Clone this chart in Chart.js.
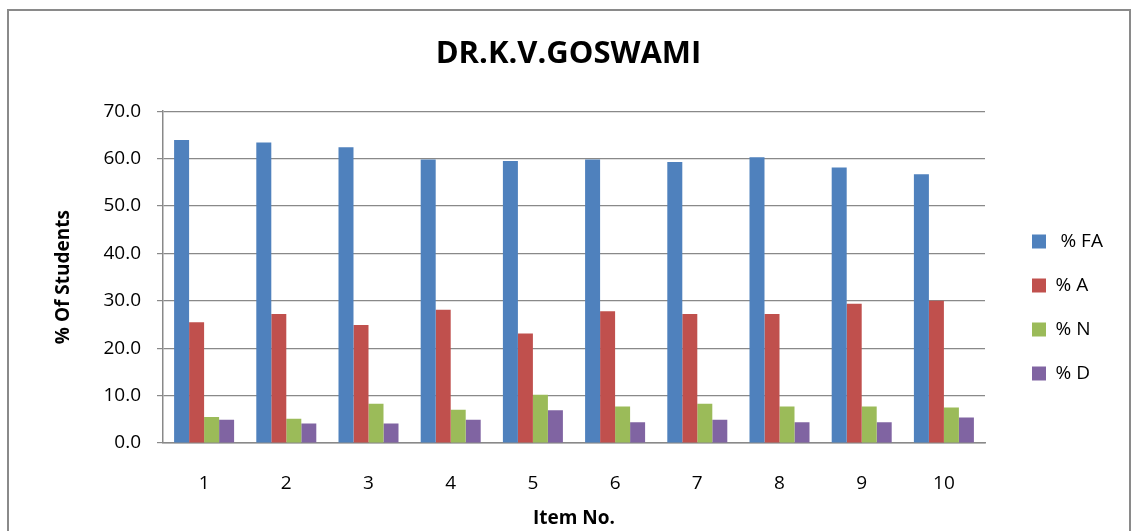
<!DOCTYPE html>
<html>
<head>
<meta charset="utf-8">
<script src="https://cdn.jsdelivr.net/npm/chart.js@4/dist/chart.umd.min.js"></script>
<style>
  html, body { margin: 0; padding: 0; background: #fff; }
  #wrap { width: 1131px; height: 531px; position: relative; }
</style>
</head>
<body>
<div id="wrap"><canvas id="chart" width="1131" height="531"></canvas></div>
<script>
// values
const items = ['1', '2', '3', '4', '5', '6', '7', '8', '9', '10'];
const pctFA = [63.9, 63.4, 62.4, 59.8, 59.5, 59.8, 59.3, 60.3, 58.1, 56.7];
const pctA  = [25.5, 27.2, 24.9, 28.1, 23.1, 27.8, 27.2, 27.2, 29.4, 30.0];
const pctN  = [5.5, 5.1, 8.3, 7.0, 10.2, 7.7, 8.3, 7.7, 7.7, 7.5];
const pctD  = [4.9, 4.1, 4.1, 4.9, 6.9, 4.4, 4.9, 4.4, 4.4, 5.4];
const yTickLabels = ['0.0', '10.0', '20.0', '30.0', '40.0', '50.0', '60.0', '70.0'];

const FONT = "'Open Sans', 'DejaVu Sans', sans-serif";
const GRID = '#898989';

// outer frame of the chart object
const frame = {
    id: 'frame',
    beforeDraw(chart) {
        const ctx = chart.ctx;
        ctx.save();
        ctx.strokeStyle = '#8a8a8a';
        ctx.lineWidth = 2;
        ctx.strokeRect(8, 10, 1122, 600);
        ctx.restore();
    }
};

// pin the legend box where the reference has it
const legendPlace = {
    id: 'legendPlace',
    beforeLayout(chart) {
        const lg = chart.legend;
        if (lg && !lg._pinned) {
            const fit = lg.fit;
            lg.fit = function () {
                fit.call(this);
                this.width = 112;
            };
            lg._pinned = true;
        }
    },
    afterLayout(chart) {
        const lg = chart.legend;
        const w = lg.right - lg.left;
        lg.left = 1007;
        lg.right = lg.left + w;
        const h = lg.bottom - lg.top;
        lg.top = 42;
        lg.bottom = lg.top + h;
    }
};

function ds(label, data, color) {
    return {
        label: label,
        data: data,
        backgroundColor: color,
        borderWidth: 0,
        barPercentage: 1,
        categoryPercentage: 0.73
    };
}

new Chart(document.getElementById('chart'), {
    type: 'bar',
    data: {
        labels: items,
        datasets: [
            ds(' % FA', pctFA, '#4F81BD'),
            ds('% A', pctA, '#C0504D'),
            ds('% N', pctN, '#9BBB59'),
            ds('% D', pctD, '#8064A2')
        ]
    },
    options: {
        responsive: false,
        animation: false,
        layout: { padding: { left: 40, right: 34, top: 0, bottom: 0 } },
        plugins: {
            title: {
                display: true,
                text: 'DR.K.V.GOSWAMI',
                color: '#000',
                font: { family: FONT, size: 31, weight: 'bold' },
                padding: { top: 36, bottom: 38 }
            },
            legend: {
                position: 'right',
                labels: {
                    color: '#000',
                    font: { family: FONT, size: 19 },
                    boxWidth: 14,
                    boxHeight: 14,
                    padding: 25
                }
            },
            tooltip: { enabled: false }
        },
        scales: {
            x: {
                grid: { display: false, drawTicks: false },
                border: { display: true, color: GRID, width: 1.5 },
                ticks: {
                    color: '#000',
                    font: { family: FONT, size: 19 },
                    padding: 29
                },
                title: {
                    display: true,
                    text: 'Item No.',
                    color: '#000',
                    font: { family: FONT, size: 19, weight: 'bold' },
                    padding: { top: 0, bottom: 1 }
                },
                afterFit(scale) { scale.height = 88; }
            },
            y: {
                min: 0,
                max: 70,
                grid: { color: GRID, lineWidth: 1.2, tickLength: 6 },
                border: { display: true, color: GRID, width: 1.5 },
                ticks: {
                    stepSize: 10,
                    color: '#000',
                    font: { family: FONT, size: 19 },
                    padding: 16,
                    callback: (v, i) => yTickLabels[i]
                },
                title: {
                    display: true,
                    text: '% Of Students',
                    color: '#000',
                    font: { family: FONT, size: 19, weight: 'bold' },
                    padding: { top: 12, bottom: 0 }
                },
                afterFit(scale) { scale.width = 123; }
            }
        }
    },
    plugins: [frame, legendPlace]
});
</script>
</body>
</html>
